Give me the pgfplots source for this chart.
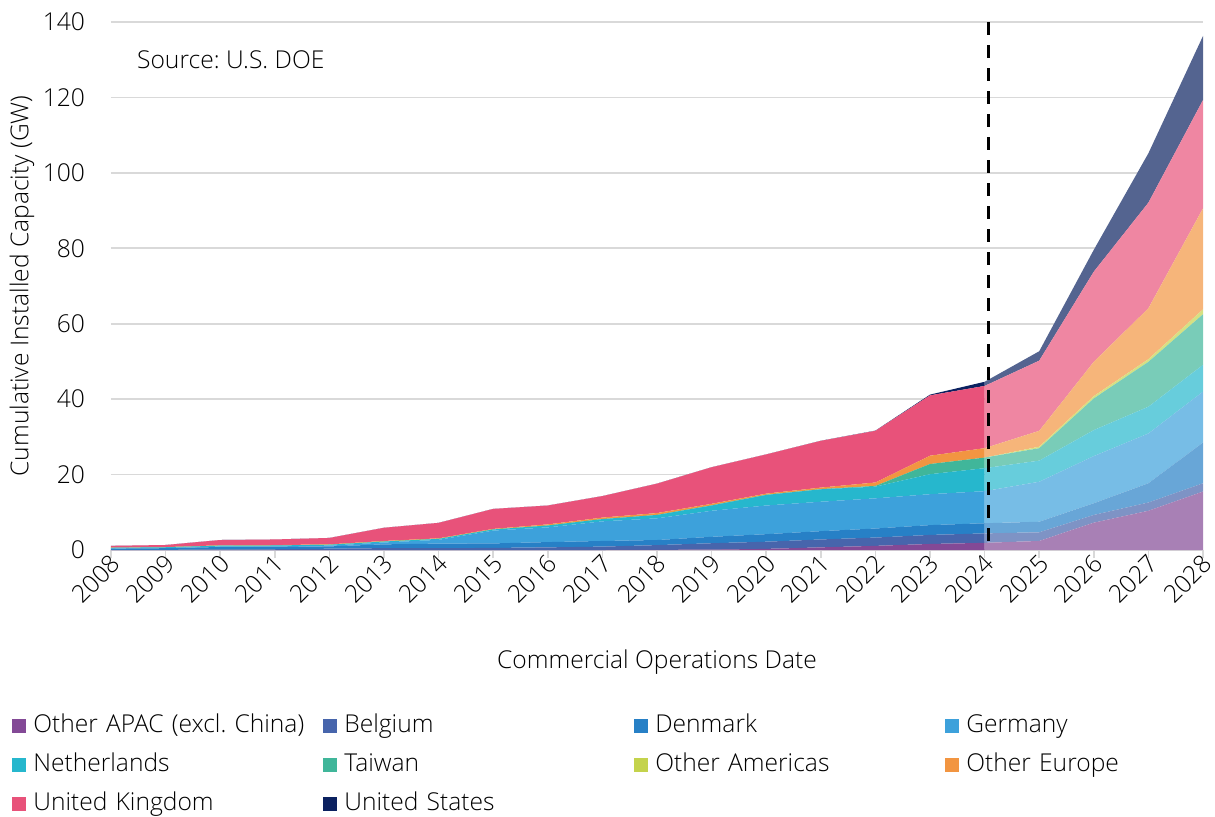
\documentclass[border=0pt]{standalone}
\usepackage{fontspec}
\setmainfont{Open Sans Light}
\usepackage{pgfplots}
\usepackage{pgfplotstable}
\pgfplotsset{compat=1.18}

\definecolor{cAPAC}{RGB}{131,73,150}
\definecolor{cBEL}{RGB}{71,101,172}
\definecolor{cDEN}{RGB}{39,128,198}
\definecolor{cGER}{RGB}{61,161,219}
\definecolor{cNED}{RGB}{38,183,205}
\definecolor{cTAI}{RGB}{64,182,154}
\definecolor{cOA}{RGB}{196,211,76}
\definecolor{cOE}{RGB}{242,149,65}
\definecolor{cUK}{RGB}{232,82,122}
\definecolor{cUS}{RGB}{11,33,96}
\definecolor{gridgray}{RGB}{217,217,217}

\pgfplotstableread{
year APAC Bel Den Ger Neth Tai OA OE UK US
2008 0 0.02 0.35 0.02 0.2 0 0 0.02 0.5 0
2009 0 0.03 0.45 0.05 0.2 0 0 0.05 0.55 0
2010 0 0.2 0.6 0.1 0.25 0 0 0.1 1.4 0
2011 0 0.2 0.6 0.15 0.25 0 0 0.1 1.5 0
2012 0 0.35 0.6 0.2 0.25 0 0 0.1 1.7 0
2013 0 0.5 1.0 0.5 0.25 0 0 0.15 3.5 0
2014 0 0.5 1.2 1.0 0.25 0 0 0.15 4.1 0
2015 0 0.55 1.2 3.4 0.3 0 0 0.15 5.3 0
2016 0 0.7 1.4 3.9 0.5 0 0 0.3 5.0 0
2017 0 0.9 1.5 5.2 0.6 0 0 0.4 5.7 0
2018 0.05 1.25 1.35 5.75 0.9 0 0 0.5 7.8 0
2019 0.1 1.7 1.7 6.9 1.4 0.05 0 0.4 9.7 0
2020 0.3 1.9 2.0 7.6 2.8 0.05 0 0.3 10.4 0
2021 0.7 2.1 2.2 7.8 3.3 0.05 0 0.4 12.4 0.02
2022 1.1 2.2 2.4 8.0 3.1 0.2 0 0.9 13.7 0.05
2023 1.6 2.4 2.6 8.2 5.3 2.7 0 2.2 16.0 0.2
2024 1.9 2.5 2.7 8.5 6.1 2.8 0 2.5 16.5 1.1
}\hist

\pgfplotstableread{
year APAC Bel Den Ger Neth Tai OA OE UK US
2024 1.9 2.5 2.7 8.5 6.1 2.8 0 2.5 16.5 1.1
2025 2.4 2.3 2.8 10.6 5.6 3.3 0.4 4.2 18.6 2.5
2026 7.25 2.05 3.1 12.5 6.9 8.4 0.6 9.1 23.9 5.8
2027 10.4 2.2 5.1 13.2 7.1 11.9 0.7 13.5 28.0 13.1
2028 15.5 2.2 10.8 13.5 7.1 13.4 1.3 26.8 28.7 17.0
}\fcst

\pgfplotsset{
  common/.style={
    scale only axis, width=546pt, height=264pt,
    xmin=2008, xmax=2028, ymin=0, ymax=140,
    stack plots=y,
  },
}

\begin{document}
\frenchspacing
\begin{tikzpicture}[font=\fontsize{12.3}{14.8}\selectfont]
\path[use as bounding box] (-55.5pt,-133pt) rectangle (552pt,275pt);
% forecast (lighter) + axes
\begin{axis}[common,
  axis x line*=bottom, axis y line*=left,
  y axis line style={draw=none},
  x axis line style={draw=gridgray, line width=0.8pt, -},
  xtick={2008,...,2028}, ytick={0,20,...,140},
  ymajorgrids, grid style={gridgray, line width=0.8pt},
  ytick style={draw=none},
  xtick style={draw=gridgray, line width=0.8pt},
  tick align=outside, major tick length=4pt,
  /pgf/number format/1000 sep={},
  /pgf/number format/assume math mode=true,
  xticklabel style={rotate=45, anchor=east, inner sep=1pt, xshift=2.5pt, yshift=-2pt},
  yticklabel style={xshift=-5.5pt},
  xlabel={Commercial Operations Date},
  ylabel={Cumulative Installed Capacity (GW)},
  xlabel style={at={(axis description cs:0.5,-0.212)}, anchor=center},
  ylabel style={at={(axis description cs:-0.0815,0.5)}, anchor=center},
]
\addplot[fill=cAPAC!70!white, draw=none] table[x=year,y=APAC]{\fcst} \closedcycle;
\addplot[fill=cBEL!70!white, draw=none] table[x=year,y=Bel]{\fcst} \closedcycle;
\addplot[fill=cDEN!70!white, draw=none] table[x=year,y=Den]{\fcst} \closedcycle;
\addplot[fill=cGER!70!white, draw=none] table[x=year,y=Ger]{\fcst} \closedcycle;
\addplot[fill=cNED!70!white, draw=none] table[x=year,y=Neth]{\fcst} \closedcycle;
\addplot[fill=cTAI!70!white, draw=none] table[x=year,y=Tai]{\fcst} \closedcycle;
\addplot[fill=cOA!70!white, draw=none] table[x=year,y=OA]{\fcst} \closedcycle;
\addplot[fill=cOE!70!white, draw=none] table[x=year,y=OE]{\fcst} \closedcycle;
\addplot[fill=cUK!70!white, draw=none] table[x=year,y=UK]{\fcst} \closedcycle;
\addplot[fill=cUS!70!white, draw=none] table[x=year,y=US]{\fcst} \closedcycle;
\end{axis}
% historical (full colour) + legend
\begin{axis}[common, hide axis,
  legend columns=4,
  legend cell align=left,
  legend image code/.code={\fill[#1] (0pt,-3.5pt) rectangle (7pt,3.5pt);},
  legend style={at={(axis description cs:-0.0907,-0.2964)}, anchor=north west,
    draw=none, fill=none, inner sep=0pt,
    nodes={text width=141.5pt, inner xsep=3.5pt, inner ysep=3.75pt, text height=9pt, text depth=3pt}},
]
\addplot[fill=cAPAC, draw=none] table[x=year,y=APAC]{\hist} \closedcycle;
\addlegendentry{Other APAC (excl. China)}
\addplot[fill=cBEL, draw=none] table[x=year,y=Bel]{\hist} \closedcycle;
\addlegendentry{Belgium}
\addplot[fill=cDEN, draw=none] table[x=year,y=Den]{\hist} \closedcycle;
\addlegendentry{Denmark}
\addplot[fill=cGER, draw=none] table[x=year,y=Ger]{\hist} \closedcycle;
\addlegendentry{Germany}
\addplot[fill=cNED, draw=none] table[x=year,y=Neth]{\hist} \closedcycle;
\addlegendentry{Netherlands}
\addplot[fill=cTAI, draw=none] table[x=year,y=Tai]{\hist} \closedcycle;
\addlegendentry{Taiwan}
\addplot[fill=cOA, draw=none] table[x=year,y=OA]{\hist} \closedcycle;
\addlegendentry{Other Americas}
\addplot[fill=cOE, draw=none] table[x=year,y=OE]{\hist} \closedcycle;
\addlegendentry{Other Europe}
\addplot[fill=cUK, draw=none] table[x=year,y=UK]{\hist} \closedcycle;
\addlegendentry{United Kingdom}
\addplot[fill=cUS, draw=none] table[x=year,y=US]{\hist} \closedcycle;
\addlegendentry{United States}
\draw[black, line width=1.7pt, dash pattern=on 6.5pt off 5pt] (axis cs:2024.07,140) -- (axis cs:2024.07,0);
\node[anchor=west] at (axis cs:2008.35,129.9) {Source: U.S. DOE};
\end{axis}
\end{tikzpicture}
\end{document}
